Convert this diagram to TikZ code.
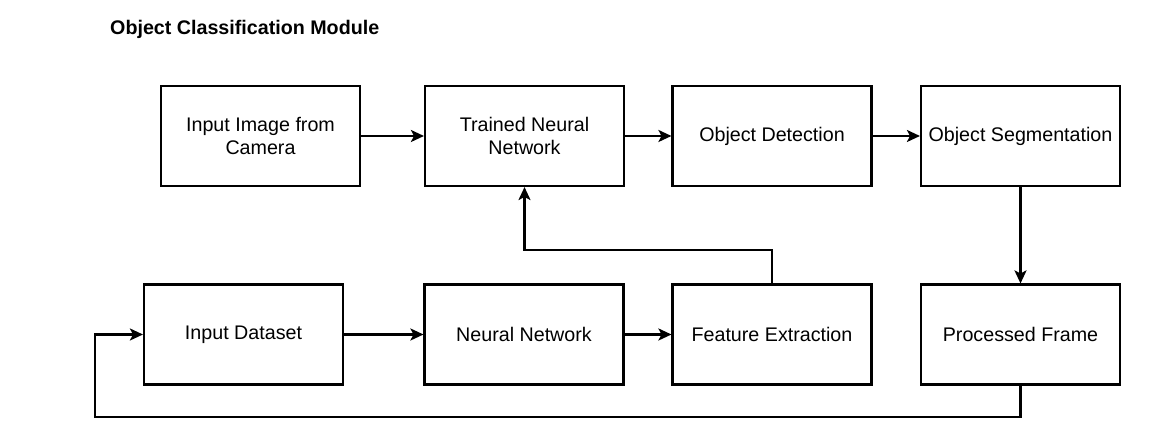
\documentclass[tikz,border=0pt]{standalone}
\usepackage{fontspec}
\setmainfont{Liberation Sans}
\usepackage{tikz}
\usetikzlibrary{arrows.meta}

\tikzset{
    block/.style={draw, line width=1.2pt, minimum width=3.98cm, minimum height=2cm,
        align=center, font=\fontsize{11.2}{12.8}\selectfont},
    arr/.style={line width=1.2pt, -{Stealth[length=2.6mm, width=2.4mm, inset=0.6mm]}}
}

\begin{document}
\begin{tikzpicture}
    \useasboundingbox (0,0) rectangle (23,8.9);

    \node[anchor=base west, font=\fontsize{11.2}{12.8}\selectfont\bfseries] (title) at (2.08,8.2) {Object Classification Module};

    % top row
    \node[block] (cam) at (5.21,6.18) {Input Image from\\Camera};
    \node[block] (tnn) at (10.49,6.18) {Trained Neural\\Network};
    \node[block] (det) at (15.44,6.18) {Object Detection};
    \node[block] (seg) at (20.41,6.18) {Object Segmentation};

    % bottom row
    \node[block] (data) at (4.87,2.21) {Input Dataset};
    \node[block] (nn) at (10.48,2.21) {Neural Network};
    \node[block] (feat) at (15.44,2.21) {Feature Extraction};
    \node[block] (frame) at (20.41,2.21) {Processed Frame};

    \coordinate (loop) at (1.9,0.56);

    \draw[arr] (cam) -- (tnn);
    \draw[arr] (tnn) -- (det);
    \draw[arr] (det) -- (seg);
    \draw[arr] (seg) -- (frame);

    \draw[arr] (data) -- (nn);
    \draw[arr] (nn) -- (feat);
    \draw[arr] (feat.north) -- ++(0,0.66) -| (tnn.south);
    \draw[arr] (frame.south) |- (loop) |- (data.west);
\end{tikzpicture}
\end{document}
